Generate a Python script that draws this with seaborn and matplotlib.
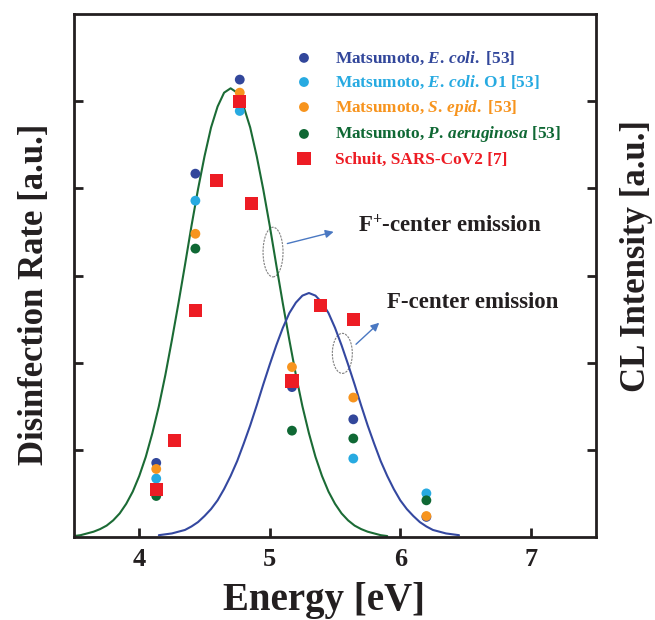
import matplotlib
matplotlib.use("Agg")
import matplotlib.pyplot as plt
from matplotlib.patches import Ellipse
import seaborn as sns

# UV photon energies [eV] of the Matsumoto data (300, 280, 260, 240, 220, 200 nm)
energy_m = [4.13, 4.43, 4.77, 5.17, 5.64, 6.20]
ecoli = [0.85, 4.17, 5.25, 1.72, 1.35, 0.23]
ecoli_o1 = [0.67, 3.86, 4.89, 1.79, 0.90, 0.50]
sepid = [0.78, 3.48, 5.10, 1.95, 1.60, 0.24]
paeruginosa = [0.47, 3.31, 5.00, 1.22, 1.13, 0.42]

# Schuit SARS-CoV2
energy_s = [4.13, 4.27, 4.43, 4.59, 4.77, 4.86, 5.17, 5.39, 5.64]
sars = [0.54, 1.11, 2.60, 4.09, 5.00, 3.83, 1.79, 2.66, 2.50]

# CL emission bands
fplus_x = [3.5, 3.55, 3.6, 3.65, 3.7, 3.75, 3.8, 3.85, 3.9, 3.95, 4.0, 4.05, 4.1, 4.15,
           4.2, 4.25, 4.3, 4.35, 4.4, 4.45, 4.5, 4.55, 4.6, 4.65, 4.7, 4.75, 4.8, 4.85,
           4.9, 4.95, 5.0, 5.05, 5.1, 5.15, 5.2, 5.25, 5.3, 5.35, 5.4, 5.45, 5.5, 5.55,
           5.6, 5.65, 5.7, 5.75, 5.8, 5.85, 5.9]
fplus_y = [0.01, 0.02, 0.04, 0.06, 0.09, 0.13, 0.19, 0.27, 0.38, 0.52, 0.70, 0.92, 1.19, 1.50,
           1.86, 2.26, 2.68, 3.12, 3.57, 3.99, 4.37, 4.70, 4.94, 5.10, 5.15, 5.10, 4.94, 4.70,
           4.37, 3.99, 3.57, 3.12, 2.68, 2.26, 1.86, 1.50, 1.19, 0.92, 0.70, 0.52, 0.38, 0.27,
           0.19, 0.13, 0.09, 0.06, 0.04, 0.02, 0.01]
f_x = [4.15, 4.2, 4.25, 4.3, 4.35, 4.4, 4.45, 4.5, 4.55, 4.6, 4.65, 4.7, 4.75, 4.8, 4.85,
       4.9, 4.95, 5.0, 5.05, 5.1, 5.15, 5.2, 5.25, 5.3, 5.35, 5.4, 5.45, 5.5, 5.55, 5.6,
       5.65, 5.7, 5.75, 5.8, 5.85, 5.9, 5.95, 6.0, 6.05, 6.1, 6.15, 6.2, 6.25, 6.3, 6.35,
       6.4, 6.45]
f_y = [0.02, 0.03, 0.04, 0.06, 0.08, 0.12, 0.17, 0.24, 0.32, 0.42, 0.55, 0.70, 0.87, 1.07, 1.28,
       1.51, 1.75, 1.98, 2.20, 2.40, 2.57, 2.69, 2.77, 2.80, 2.77, 2.69, 2.57, 2.40, 2.20, 1.98,
       1.75, 1.51, 1.28, 1.07, 0.87, 0.70, 0.55, 0.42, 0.32, 0.24, 0.17, 0.12, 0.08, 0.06, 0.04,
       0.03, 0.02]

sns.set_theme(style="ticks")
plt.rcParams['font.family'] = ['Liberation Serif', 'DejaVu Serif']
plt.rcParams['font.weight'] = 'bold'
plt.rcParams['axes.labelweight'] = 'bold'
plt.rcParams['mathtext.fontset'] = 'custom'
plt.rcParams['mathtext.rm'] = 'Liberation Serif:bold'
plt.rcParams['mathtext.bf'] = 'Liberation Serif:bold'
plt.rcParams['mathtext.it'] = 'Liberation Serif:italic:bold'

fig = plt.figure(figsize=(6.55, 6.2), dpi=100)
ax = fig.add_axes([0.113, 0.134, 0.797, 0.843])

sns.lineplot(x=fplus_x, y=fplus_y, color='#1b6b35', lw=1.5, sort=False, estimator=None, ax=ax)
sns.lineplot(x=f_x, y=f_y, color='#3448a0', lw=1.5, sort=False, estimator=None, ax=ax)

series = [
    (energy_m, ecoli, '#32479b', 'o', 50, r"Matsumoto, $\mathit{E.\,coli.}$ [53]"),
    (energy_m, ecoli_o1, '#27aae1', 'o', 50, r"Matsumoto, $\mathit{E.\,coli.}\,$O1 [53]"),
    (energy_m, sepid, '#f7941e', 'o', 50, r"Matsumoto, $\mathit{S.\,epid.}$ [53]"),
    (energy_m, paeruginosa, '#0f6834', 'o', 50, r"Matsumoto, $\mathit{P.\,aeruginosa}$ [53]"),
    (energy_s, sars, '#ed1c24', 's', 90, "Schuit, SARS-CoV2 [7]"),
]
for x, y, c, m, s, lab in series:
    sns.scatterplot(x=x, y=y, color=c, marker=m, s=s, edgecolor='none', label=lab, ax=ax, zorder=3)

leg = ax.legend(loc='upper left', bbox_to_anchor=(0.424, 0.933), frameon=False, fontsize=12.4,
                handlelength=1, handletextpad=1.3, labelspacing=0.4, borderpad=0, borderaxespad=0)
for txt, ser in zip(leg.get_texts(), series):
    txt.set_color(ser[2])

# emission band annotations
ax.add_patch(Ellipse((5.025, 3.27), 0.153, 0.57, fill=False, ec='gray', ls=(0, (2, 1)), lw=0.8))
ax.annotate("", xy=(5.51, 3.51), xytext=(5.114, 3.36),
            arrowprops=dict(arrowstyle='-|>', color='#4a78c2', lw=1, mutation_scale=12))
ax.text(5.673, 3.57, r"F$^{+}$-center emission", fontsize=16.5, va='center', ha='left', color='#231f20')

ax.add_patch(Ellipse((5.556, 2.107), 0.153, 0.46, fill=False, ec='gray', ls=(0, (2, 1)), lw=0.8))
ax.annotate("", xy=(5.854, 2.48), xytext=(5.645, 2.19),
            arrowprops=dict(arrowstyle='-|>', color='#4a78c2', lw=1, mutation_scale=12))
ax.text(5.90, 2.69, "F-center emission", fontsize=16.5, va='center', ha='left', color='#231f20')

ax.set_xlim(3.5, 7.5)
ax.set_ylim(0, 6)
ax.set_xticks([4, 5, 6, 7])
ax.set_yticks([1, 2, 3, 4, 5])
ax.set_yticklabels([])
ax.tick_params(direction='in', length=6.5, width=2, right=True, top=False,
               labelsize=19, pad=8, colors='#231f20')
for sp in ax.spines.values():
    sp.set_linewidth(2)
    sp.set_color('#231f20')

ax.set_xlabel("Energy [eV]", fontsize=28, fontweight='bold', va='center', color='#231f20')
ax.xaxis.set_label_coords(0.478, -0.122)
ax.set_ylabel("Disinfection Rate [a.u.]", fontsize=25, fontweight='bold', va='center', color='#231f20')
ax.yaxis.set_label_coords(-0.075, 0.465)
ax.text(1.078, 0.537, "CL Intensity [a.u.]", transform=ax.transAxes, rotation=90,
        fontsize=25, fontweight='bold', va='center', ha='center', color='#231f20')

fig.savefig("out.png", dpi=100)
